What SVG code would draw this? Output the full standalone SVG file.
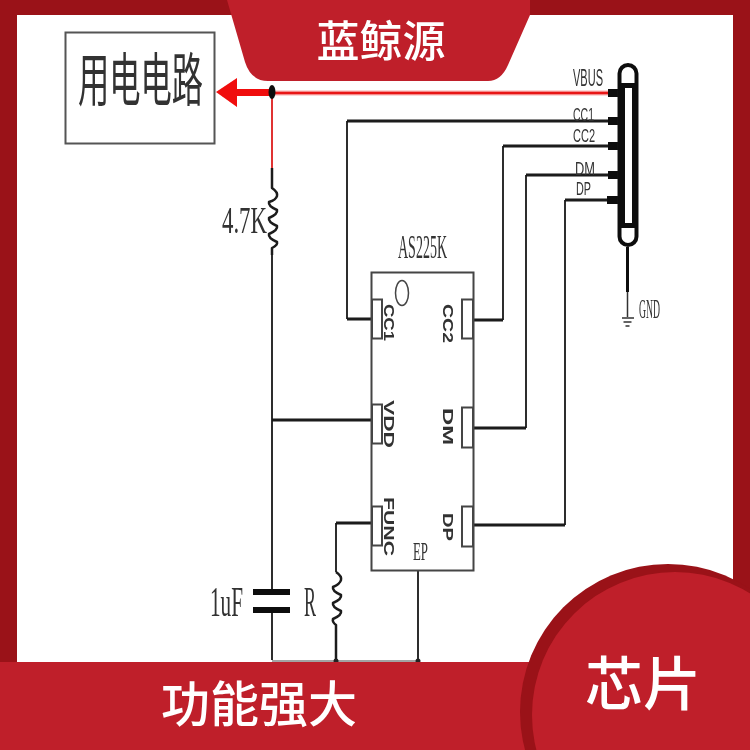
<svg xmlns="http://www.w3.org/2000/svg" width="750" height="750" viewBox="0 0 750 750">
<defs><filter id="soft" x="-5%" y="-5%" width="110%" height="110%"><feGaussianBlur stdDeviation="0.45"/></filter></defs>
<style>
.w{fill:none;stroke:#1a1a1a;stroke-width:1.800}
.h{fill:none;stroke:#1a1a1a;stroke-width:3}
.z{fill:none;stroke:#1a1a1a;stroke-width:2.500;stroke-linejoin:round}
.pin{fill:#fff;stroke:#444;stroke-width:2}
.soft{filter:url(#soft)}
.s{font-family:"Liberation Serif",serif;fill:#333}
.a{font-family:"Liberation Sans",sans-serif;fill:#333}
.p{font-family:"Liberation Sans",sans-serif;fill:#333;font-size:15px;font-weight:bold}
.c{font-family:"Noto Sans CJK SC",sans-serif;fill:#fff;text-anchor:middle;font-weight:500}
</style>
<rect width="750" height="750" fill="#9a1218"/>
<rect x="17" y="15" width="716" height="660" fill="#fff"/>

<g id="connectors" class="soft">
<path class="h" d="M347 121H618M347 319H372M503 146H618M473 320H503M526 175H618M473 428H526M565 200H618M473 525H565M272 420H372M336 523H372"/>
<path class="w" d="M347 121V319M503 320V146M526 428V175M565 525V200M336 572V523M418 571V660"/>
<path class="z" d="M272 168V188q6 4 5 8t-8 6q-1 4 8 8q1 4-8 8q-1 4 8 8q1 4-8 8q-1 4 8 8q1 3-5 6V255"/>
<path class="w" d="M272 255V592M272 610V660"/>
<path class="z" d="M336 572q6 4 5 8t-8 7q-1 4 8 8q1 4-8 8q-1 4 8 8q1 4-8 8q-1 3 3 6V662"/>
<path class="w" stroke-opacity=".4" d="M272 661H418"/>
<path fill="none" stroke="#f8b0b0" stroke-width="5" d="M272 93H608"/>
<path fill="none" stroke="#e81818" stroke-width="2.500" d="M272 93H608"/>
<path fill="none" stroke="#e03030" stroke-width="2" d="M272 93V168"/>
<path fill="#f00a0a" d="M216 92 237 78V89H270V96H237V107Z"/>
<ellipse cx="272" cy="92" rx="3.500" ry="7" fill="#111"/>
<path fill="#111" d="M608 89h10v8h-10zM608 117h10v8h-10zM608 142h10v8h-10zM608 171h10v8h-10zM607 196h11v8h-11z"/>
<circle cx="336" cy="661" r="2.500" fill="#222"/><circle cx="418" cy="661" r="2.500" fill="#222"/>
</g>

<g id="load" class="soft">
<rect x="65.500" y="32.500" width="149" height="111" fill="#fff" stroke="#555" stroke-width="2"/>
<text x="78" y="101" font-size="58" textLength="125" lengthAdjust="spacingAndGlyphs" font-family="Noto Sans CJK SC,sans-serif" fill="#333">用电电路</text>
</g>

<g id="r1" class="soft"><text class="s" x="222" y="233" font-size="38" textLength="45" lengthAdjust="spacingAndGlyphs">4.7K</text></g>
<g id="c1" class="soft">
<rect x="253" y="589" width="37" height="6" fill="#111"/><rect x="253" y="607" width="37" height="6" fill="#111"/>
<text class="s" x="210" y="616" font-size="42" textLength="33" lengthAdjust="spacingAndGlyphs">1uF</text>
</g>
<g id="r2" class="soft"><text class="s" x="304" y="616" font-size="42" textLength="12" lengthAdjust="spacingAndGlyphs">R</text></g>

<g id="chip" class="soft">
<rect x="371.500" y="272.500" width="102" height="298" fill="#fff" stroke="#444" stroke-width="2"/>
<ellipse cx="402" cy="293" rx="6.500" ry="12.500" fill="#fff" stroke="#444" stroke-width="1.500"/>
<rect class="pin" x="372" y="299.500" width="10" height="39"/><rect class="pin" x="372" y="404.500" width="10" height="39"/><rect class="pin" x="372" y="506.500" width="10" height="39"/>
<rect class="pin" x="462" y="299.500" width="11" height="39"/><rect class="pin" x="462" y="407.500" width="11" height="40"/><rect class="pin" x="462" y="506.500" width="11" height="40"/>
<text class="p" transform="translate(384 304) rotate(90)" textLength="37" lengthAdjust="spacingAndGlyphs">CC1</text>
<text class="p" transform="translate(384 400) rotate(90)" textLength="48" lengthAdjust="spacingAndGlyphs">VDD</text>
<text class="p" transform="translate(384 497) rotate(90)" textLength="59" lengthAdjust="spacingAndGlyphs">FUNC</text>
<text class="p" transform="translate(443 304) rotate(90)" textLength="39" lengthAdjust="spacingAndGlyphs">CC2</text>
<text class="p" transform="translate(443 408) rotate(90)" textLength="37" lengthAdjust="spacingAndGlyphs">DM</text>
<text class="p" transform="translate(443 513) rotate(90)" textLength="28" lengthAdjust="spacingAndGlyphs">DP</text>
<text class="s" x="413" y="560" font-size="25" textLength="15" lengthAdjust="spacingAndGlyphs">EP</text>
<text class="s" x="398" y="258" font-size="33" textLength="49" lengthAdjust="spacingAndGlyphs">AS225K</text>
</g>

<g id="usb" class="soft">
<rect x="619.500" y="65" width="17" height="180" rx="8.500" fill="#fff" stroke="#111" stroke-width="4"/>
<rect x="622.500" y="85.500" width="12" height="140" fill="#fff" stroke="#111" stroke-width="5"/>
<path d="M627.500 247V292" stroke="#111" stroke-width="3" fill="none"/>
<path d="M627.500 292V317M622 318h12M623.500 322h8M625.500 326h4" stroke="#333" stroke-width="1.500" fill="none"/>
<text class="a" x="573" y="86" font-size="24" textLength="30" lengthAdjust="spacingAndGlyphs">VBUS</text>
<text class="a" x="573" y="121" font-size="18" textLength="21" lengthAdjust="spacingAndGlyphs">CC1</text>
<text class="a" x="573" y="142" font-size="18" textLength="22" lengthAdjust="spacingAndGlyphs">CC2</text>
<text class="a" x="575" y="175" font-size="17.500" textLength="20" lengthAdjust="spacingAndGlyphs">DM</text>
<text class="a" x="576" y="195" font-size="17.500" textLength="15" lengthAdjust="spacingAndGlyphs">DP</text>
<text class="s" x="639" y="318" font-size="27" textLength="21" lengthAdjust="spacingAndGlyphs">GND</text>
</g>

<g id="title">
<path fill="#bf1f2a" d="M227 0H530V15L508 65Q501 81 488 81H268Q251 81 245 62Z"/>
<text class="c" x="381" y="57" font-size="43">蓝鲸源</text>
</g>

<g id="footer">
<rect y="662" width="750" height="88" fill="#bf1f2a"/>
<text class="c" x="259" y="722" font-size="49">功能强大</text>
</g>
<g id="badge">
<circle cx="668" cy="712" r="148" fill="#9a1218"/>
<circle cx="675" cy="715" r="143" fill="#bf1f2a"/>
<text class="c" x="643" y="705" font-size="58">芯片</text>
</g>
</svg>
